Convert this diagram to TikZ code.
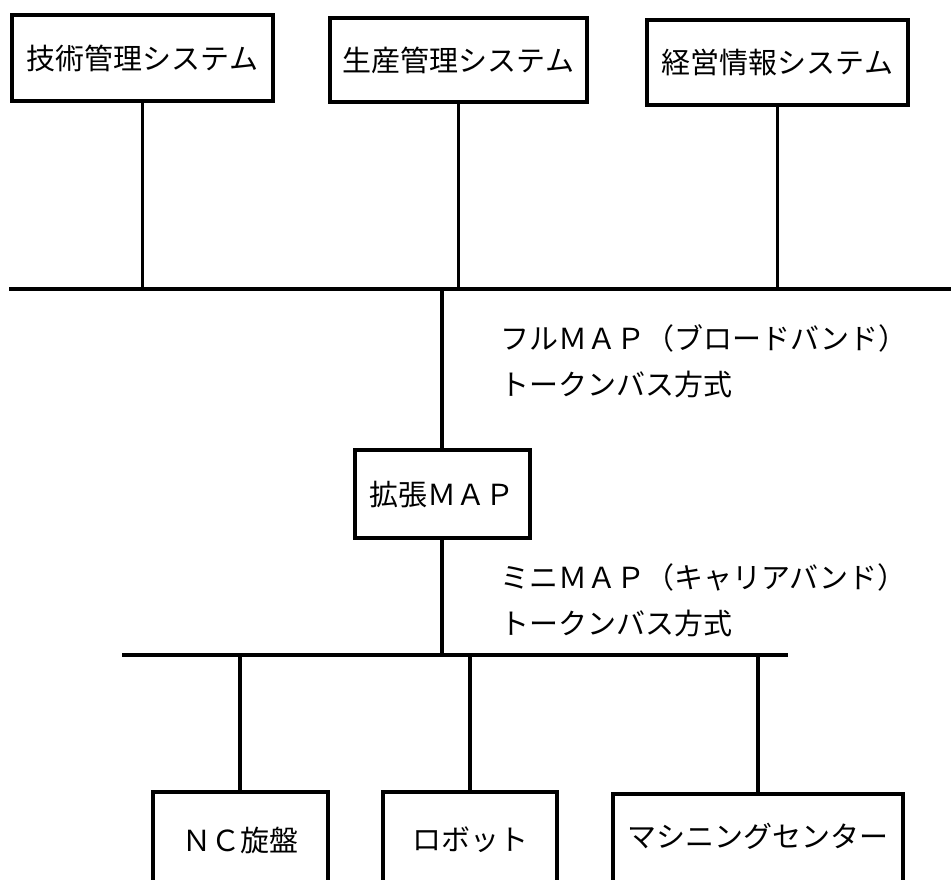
\documentclass[tikz,border=0pt]{standalone}
\usepackage{fontspec}
\setmainfont{Noto Sans CJK JP}
\begin{document}
\begin{tikzpicture}[x=1pt,y=-1pt,
  jp/.style={font=\fontsize{29pt}{34pt}\selectfont},
  box/.style={draw, line width=4pt, inner sep=0pt, jp},
  lbl/.style={anchor=west, inner sep=0pt, jp},
  wire/.style={line width=3.4pt},
  bus/.style={line width=4.4pt}]
\useasboundingbox (0,0) rectangle (951,879);
\clip (0,0) rectangle (951,879);
% top systems
\node[box, minimum width=261pt, minimum height=86pt] (t1) at (142.5,58) {技術管理システム};
\node[box, minimum width=257pt, minimum height=84pt] (t2) at (458.5,60) {生産管理システム};
\node[box, minimum width=261pt, minimum height=85pt] (t3) at (777.5,62) {経営情報システム};
% upper bus
\coordinate (b1L) at (9,289);
\coordinate (b1R) at (951,289);
\draw[bus] (b1L) -- (b1R);
\draw[wire] (t1.south) -- (t1.south |- b1L);
\draw[wire] (t2.south) -- (t2.south |- b1L);
\draw[wire] (t3.south) -- (t3.south |- b1L);
% gateway
\node[box, minimum width=175pt, minimum height=88pt] (mid) at (442,494) {拡張ＭＡＰ};
\draw[wire] (mid.north) -- (mid.north |- b1L);
\node[lbl] (l1) at (500,338) {フルＭＡＰ（ブロードバンド）};
\node[lbl] (l2) at (500,384) {トークンバス方式};
% lower bus
\coordinate (b2L) at (122,655);
\coordinate (b2R) at (788,655);
\draw[bus] (b2L) -- (b2R);
\draw[wire] (mid.south) -- (mid.south |- b2L);
\node[lbl] (l3) at (500,577) {ミニＭＡＰ（キャリアバンド）};
\node[lbl] (l4) at (500,623) {トークンバス方式};
% machines
\node[box, anchor=north, minimum width=175pt, minimum height=150pt] (m1) at (240,790) {};
\node[box, anchor=north, minimum width=174pt, minimum height=150pt] (m2) at (470,790) {};
\node[box, anchor=north, minimum width=290pt, minimum height=150pt] (m3) at (758,792) {};
\node[inner sep=0pt, jp] (m1t) at (240,840) {ＮＣ旋盤};
\node[inner sep=0pt, jp] (m2t) at (470,840) {ロボット};
\node[inner sep=0pt, jp] (m3t) at (758,836) {マシニングセンター};
\draw[wire] (m1.north) -- (m1.north |- b2L);
\draw[wire] (m2.north) -- (m2.north |- b2L);
\draw[wire] (m3.north) -- (m3.north |- b2L);
\end{tikzpicture}
\end{document}
